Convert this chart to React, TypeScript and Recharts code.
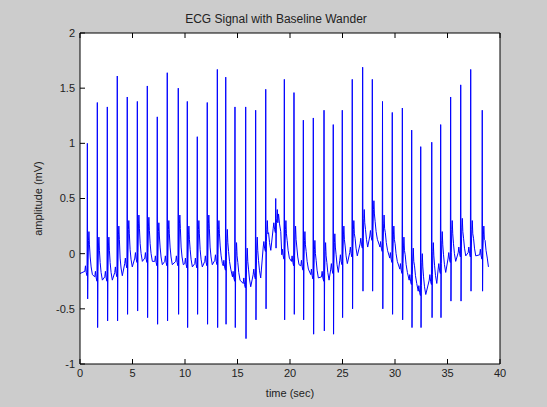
import { LineChart, Line, XAxis, YAxis } from "recharts";

// beat-by-beat readings from the reference (time in sec, values in mV)
const beatTimes = [
  0.7, 1.65, 2.6, 3.55, 4.5, 5.46, 6.41, 7.36, 8.31, 9.36, 10.22, 11.17, 12.12, 13.08,
  13.88, 14.76, 15.78, 16.73, 17.69, 18.64, 19.46, 20.38, 21.27, 22.22, 23.24, 24.12,
  24.98, 25.93, 26.92, 27.84, 28.81, 29.74, 30.7, 31.59, 32.45, 33.5, 34.35, 35.3,
  36.26, 37.21, 38.31,
];
const rPeaks = [
  1.0, 1.37, 1.33, 1.61, 1.42, 1.38, 1.52, 1.24, 1.64, 1.5, 1.38, 1.06, 1.37, 1.67,
  1.6, 1.33, 1.33, 1.3, 1.49, 0.5, 1.58, 1.46, 1.21, 1.23, 1.3, 1.17, 1.3, 1.58, 1.69,
  1.58, 1.38, 1.28, 1.32, 1.12, 0.97, 1.01, 1.17, 1.42, 1.53, 1.67, 1.3,
];
const sTroughs = [
  -0.41, -0.67, -0.61, -0.61, -0.55, -0.52, -0.58, -0.64, -0.61, -0.55, -0.67, -0.55,
  -0.64, -0.67, -0.64, -0.67, -0.77, -0.6, -0.5, 0.05, -0.6, -0.55, -0.6, -0.73, -0.7,
  -0.73, -0.58, -0.5, -0.34, -0.34, -0.5, -0.55, -0.6, -0.67, -0.67, -0.58, -0.58,
  -0.43, -0.43, -0.34, -0.34,
];
const baseLevels = [
  -0.17, -0.22, -0.22, -0.18, -0.1, -0.05, -0.05, -0.08, -0.08, -0.08, -0.1, -0.1,
  -0.08, -0.07, -0.12, -0.22, -0.28, -0.2, 0.05, 0.22, -0.02, -0.08, -0.12, -0.2,
  -0.22, -0.15, -0.07, 0.0, 0.08, 0.15, 0.05, -0.05, -0.15, -0.25, -0.35, -0.25,
  -0.15, -0.05, 0.0, 0.0, -0.02,
];
const tPeaks = [
  0.2, 0.15, 0.15, 0.25, 0.3, 0.35, 0.33, 0.28, 0.3, 0.35, 0.25, 0.3, 0.35, 0.3, 0.22,
  0.1, 0.05, 0.15, 0.3, 0.4, 0.3, 0.25, 0.2, 0.12, 0.1, 0.18, 0.25, 0.3, 0.4, 0.48,
  0.35, 0.25, 0.15, 0.05, 0.0, 0.1, 0.2, 0.3, 0.32, 0.3, 0.25,
];
const signalStart = { time: 0, mv: -0.18 };
const signalEnd = { time: 38.9, mv: -0.12 };

const xTicks = [0, 5, 10, 15, 20, 25, 30, 35, 40];
const yTicks = [-1, -0.5, 0, 0.5, 1, 1.5, 2];

// one P-QRS-T complex per beat, built from the readings above
const data: { time: number; mv: number }[] = [signalStart];
beatTimes.forEach((t, i) => {
  const b = baseLevels[i];
  const tp = tPeaks[i];
  data.push(
    { time: t - 0.24, mv: b + 0.01 },
    { time: t - 0.18, mv: b + 0.06 },
    { time: t - 0.11, mv: b },
    { time: t - 0.03, mv: b - 0.03 },
    { time: t, mv: rPeaks[i] },
    { time: t + 0.03, mv: sTroughs[i] },
    { time: t + 0.06, mv: b + 0.06 },
    { time: t + 0.11, mv: tp - 0.08 },
    { time: t + 0.15, mv: tp },
    { time: t + 0.2, mv: tp - 0.12 },
    { time: t + 0.27, mv: b + 0.14 },
    { time: t + 0.36, mv: b + 0.05 },
    { time: t + 0.48, mv: b - 0.02 }
  );
});
data.push(signalEnd);

const font = "'Liberation Sans', Arial, sans-serif";
const TM = 4;
const TL = 5;

const fmt = (v: number) => String(v);

const BottomTick = (props: any) => {
  const { x, y, payload } = props;
  return (
    <g>
      <line x1={x} x2={x} y1={y - TM} y2={y - TM - TL} stroke="#000" />
      <text x={x} y={y} dy="0.8em" textAnchor="middle" fontSize={11} fill="#222" fontFamily={font}>
        {fmt(payload.value)}
      </text>
    </g>
  );
};

const TopTick = (props: any) => {
  const { x, y } = props;
  return <line x1={x} x2={x} y1={y + TM} y2={y + TM + TL} stroke="#000" />;
};

const LeftTick = (props: any) => {
  const { x, y, payload } = props;
  return (
    <g>
      <line x1={x + TM} x2={x + TM + TL} y1={y} y2={y} stroke="#000" />
      <text x={x - 1} y={y} dy="0.35em" textAnchor="end" fontSize={11} fill="#222" fontFamily={font}>
        {fmt(payload.value)}
      </text>
    </g>
  );
};

const RightTick = (props: any) => {
  const { x, y } = props;
  return <line x1={x - TM} x2={x - TM - TL} y1={y} y2={y} stroke="#000" />;
};

export default function App() {
  return (
    <div
      style={{
        position: "absolute",
        left: 0,
        top: 0,
        width: 547,
        height: 407,
        background: "#cccccc",
        fontFamily: font,
      }}
    >
      <div
        style={{
          position: "absolute",
          left: 66,
          width: 420,
          top: 12,
          textAlign: "center",
          fontSize: 12,
          color: "#222",
        }}
      >
        ECG Signal with Baseline Wander
      </div>
      <LineChart
        width={547}
        height={407}
        data={data}
        margin={{ top: 0, right: 0, bottom: 0, left: 0 }}
        style={{ position: "absolute", left: 0, top: 0 }}
      >
        <rect x={80} y={33} width={420} height={331} fill="#fff" />
        <XAxis
          dataKey="time"
          type="number"
          domain={[0, 40]}
          ticks={xTicks}
          interval={0}
          height={43}
          tickSize={0}
          tickMargin={TM}
          tick={<BottomTick />}
          axisLine={{ stroke: "#000" }}
          label={{ value: "time (sec)", position: "insideBottom", offset: 10, fontSize: 11, fill: "#222" }}
        />
        <XAxis
          xAxisId="top"
          orientation="top"
          dataKey="time"
          type="number"
          domain={[0, 40]}
          ticks={xTicks}
          interval={0}
          height={33}
          tickSize={0}
          tickMargin={TM}
          tick={<TopTick />}
          axisLine={{ stroke: "#000" }}
        />
        <YAxis
          type="number"
          domain={[-1, 2]}
          ticks={yTicks}
          interval={0}
          width={80}
          tickSize={0}
          tickMargin={TM}
          tick={<LeftTick />}
          axisLine={{ stroke: "#000" }}
          label={{ value: "amplitude (mV)", angle: -90, position: "insideLeft", offset: 38, fontSize: 11, fill: "#222", style: { textAnchor: "middle" } }}
        />
        <YAxis
          yAxisId="right"
          orientation="right"
          type="number"
          domain={[-1, 2]}
          ticks={yTicks}
          interval={0}
          width={47}
          tickSize={0}
          tickMargin={TM}
          tick={<RightTick />}
          axisLine={{ stroke: "#000" }}
        />
        <Line
          type="linear"
          dataKey="mv"
          stroke="#0000ff"
          strokeWidth={1}
          dot={false}
          isAnimationActive={false}
        />
      </LineChart>
    </div>
  );
}
